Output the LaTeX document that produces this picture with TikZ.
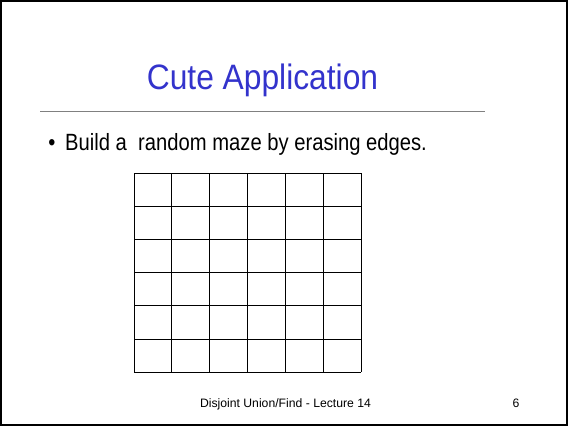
\documentclass[tikz,border=0pt]{standalone}
\usepackage{fontspec}
\setmainfont{Liberation Sans}
\newfontfamily\slidenarrow[FakeStretch=0.86]{Liberation Sans}
\newfontfamily\titlenarrow[FakeStretch=0.9]{Liberation Sans}
\usepackage{tikz}
\usetikzlibrary{positioning}
\definecolor{slidetitle}{HTML}{3333CC}
\definecolor{slidegray}{HTML}{808080}

\begin{document}
\begin{tikzpicture}[x=1pt,y=-1pt,
  titletext/.style={text=slidetitle,font=\titlenarrow\fontsize{35.3}{40}\selectfont,inner sep=0pt},
  bodytext/.style={font=\slidenarrow\fontsize{23.5}{26}\selectfont,inner sep=0pt},
  foottext/.style={font=\fontsize{12.2}{14}\selectfont,inner sep=0pt},
  mazeline/.style={draw=black,line width=0.9pt}]
\useasboundingbox (0,0) rectangle (568,426);
\draw[line width=2pt] (1,1) rectangle (567,425);
\node[titletext,anchor=base] (title) at (262.5,89.5) {Cute Application};
\coordinate (ruleL) at (40,111.7);
\coordinate (ruleR) at (485,111.7);
\draw[slidegray,line width=1.3pt] (ruleL) -- (ruleR);
\node[bodytext,anchor=base] (dot) at (52,150) {\textbullet};
\node[bodytext,anchor=base west] (bullet) at (65,150) {Build a\ \ random maze by erasing edges.};
% the 6 x 6 maze
\foreach \i in {0,...,6} {
  \draw[mazeline] (134+\i*37.9,173.3) -- (134+\i*37.9,372.1);
  \draw[mazeline] (134,173.3+\i*33.13) -- (361.4,173.3+\i*33.13);
}
\node[foottext,anchor=base] (footer) at (285.5,407) {Disjoint Union/Find - Lecture 14};
\node[foottext,anchor=base] (page) at (516,407) {6};
\end{tikzpicture}
\end{document}
